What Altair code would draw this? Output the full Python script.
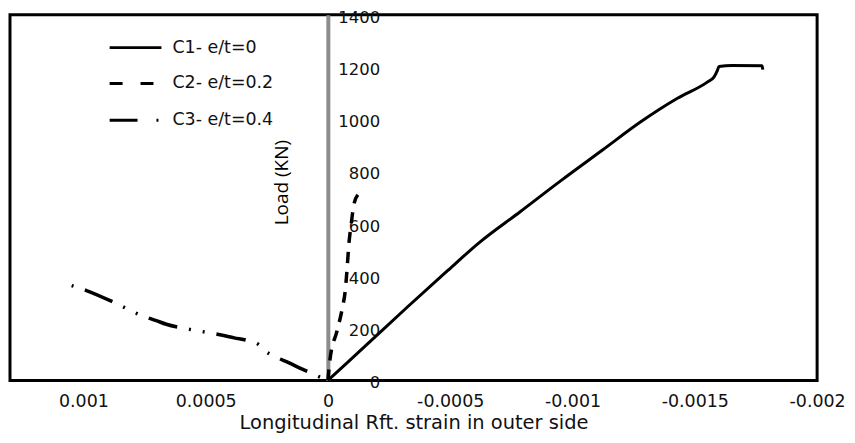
import altair as alt
import pandas as pd

# ---- data ----
c1_strain = [0, -0.000163, -0.000326, -0.000489, -0.000615, -0.000786, -0.000954,
             -0.001124, -0.001279, -0.001429, -0.001551, -0.001578, -0.001592,
             -0.001599, -0.001653, -0.001775, -0.001778]
c1_load = [0, 141, 282, 420, 525, 646, 766, 883, 990, 1080, 1142, 1161, 1186,
           1202, 1206, 1205, 1190]

c2_strain = [0, -0.0000081, -0.0000379, -0.0000582, -0.0000721, -0.0000786,
             -0.0000855, -0.0000949, -0.0001059, -0.0001221]
c2_load = [0, 78, 192, 274, 356, 432, 521, 597, 673, 711]

# C3 listed from its far (left) end back to the origin
c3_strain = [0.001048, 0.000987, 0.000871, 0.000763, 0.000702, 0.000661, 0.000579,
             0.000447, 0.000383, 0.000322, 0.000281, 0.000268, 0.00022,
             0.000161, 0.000105, 0]
c3_load = [363, 344, 297, 249, 229, 215, 198, 176, 163, 151, 136, 122, 93, 68, 43, 0]

series_names = ["C1- e/t=0", "C2- e/t=0.2", "C3- e/t=0.4"]
x_ticks = [0.001, 0.0005, 0, -0.0005, -0.001, -0.0015, -0.002]
y_ticks = [0, 200, 400, 600, 800, 1000, 1200, 1400]

x_title = "Longitudinal Rft. strain in outer side"
y_title = "Load (KN)"

def frame(strain, load, name):
    return pd.DataFrame({"strain": strain, "load": load, "series": name,
                         "idx": list(range(len(strain)))})

d1 = frame(c1_strain, c1_load, series_names[0])
d2 = frame(c2_strain, c2_load, series_names[1])
d3 = frame(c3_strain, c3_load, series_names[2])

W, H = 810, 367

xscale = alt.Scale(domain=[-0.002, 0.0013], reverse=True, nice=False, zero=False)
yscale = alt.Scale(domain=[0, 1400], nice=False)

xaxis = alt.Axis(values=x_ticks, labelExpr="'' + datum.value", title=x_title,
                 ticks=False, domain=False, grid=False, labelFlush=False,
                 labelFont="DejaVu Sans", labelFontSize=17.5, labelColor="#111",
                 labelPadding=12, titleFont="DejaVu Sans", titleFontSize=19.5,
                 titleFontWeight="normal", titleColor="#111", titlePadding=4)

yaxis = alt.Axis(values=y_ticks, format="d", orient="right", offset=-(W - 319),
                 ticks=False, grid=False, domain=True, domainColor="#8c8c8c",
                 domainWidth=4, labelAlign="right", labelPadding=52,
                 labelBaseline="middle", labelFlush=False, labelOffset=2.5,
                 labelFont="DejaVu Sans", labelFontSize=16.5, labelColor="#111",
                 title=y_title, titleAngle=270, titleX=-47, titleY=168,
                 titleAlign="center", titleBaseline="middle",
                 titleFont="Open Sans", titleFontSize=19,
                 titleFontWeight="normal", titleColor="#000")

def line(df, dash, width):
    enc = dict(
        x=alt.X("strain:Q", scale=xscale, axis=xaxis),
        y=alt.Y("load:Q", scale=yscale, axis=yaxis),
        order=alt.Order("idx:Q"),
    )
    kw = dict(color="black", strokeWidth=width, strokeCap="butt",
              strokeJoin="round", interpolate="monotone")
    if dash:
        kw["strokeDash"] = dash
    return alt.Chart(df).mark_line(**kw).encode(**enc)

l1 = line(d1, None, 3)
l2 = line(d2, [11, 9], 3.5)
l3 = line(d3, [2, 12, 30, 12, 2, 12], 3.5)

# ---- manual legend ----
legend_layers = []
legend_rows = [(33, None, 152), (69, [13, 18], 145), (106, [28, 19, 2, 50], 150)]
for name, (ypos, dash, xend) in zip(series_names, legend_rows):
    src = pd.DataFrame({"label": [name]})
    kw = dict(color="black", strokeWidth=3, strokeCap="butt")
    if dash:
        kw["strokeDash"] = dash
    legend_layers.append(
        alt.Chart(src).mark_rule(**kw).encode(
            x=alt.value(100), x2=alt.value(xend), y=alt.value(ypos)))
    legend_layers.append(
        alt.Chart(src).mark_text(align="left", baseline="middle", font="DejaVu Sans",
                                 fontSize=17.5, color="#111").encode(
            x=alt.value(163), y=alt.value(ypos), text="label:N"))

chart = alt.layer(l1, l2, l3, *legend_layers).properties(
    width=W, height=H,
    autosize=alt.AutoSizeParams(type="none"),
    padding={"left": 2, "top": 6, "right": 30, "bottom": 55},
).configure_view(stroke="black", strokeWidth=3)

chart.save("out.html", embed_options={"renderer": "svg", "actions": False})
